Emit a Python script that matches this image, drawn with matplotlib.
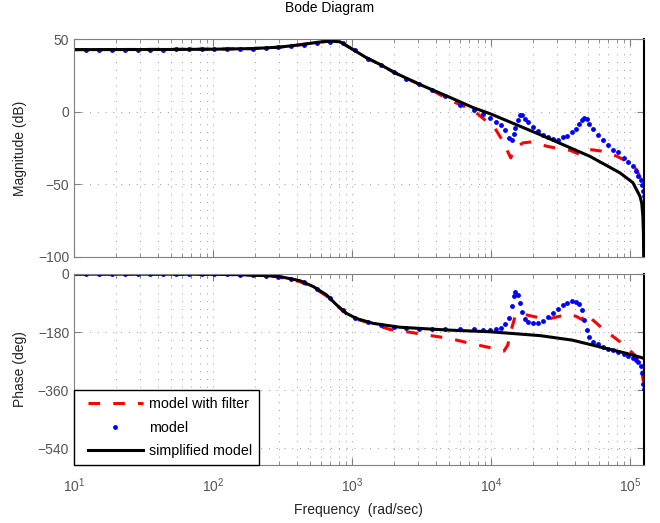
import matplotlib
matplotlib.use("Agg")
import matplotlib.pyplot as plt
from matplotlib.legend_handler import HandlerLine2D
from matplotlib.ticker import LogLocator, NullFormatter

plt.rcParams["font.family"] = ["Liberation Sans", "DejaVu Sans"]
plt.rcParams["font.size"] = 10
plt.rcParams["mathtext.default"] = "regular"

# simplified model (black)
simp_w = [10, 50, 100, 190, 300, 420, 580, 700, 820, 960, 1276, 1614, 2037, 3083,
          5070, 7420, 10000, 22540, 51500, 84700, 105000, 118000, 121500, 123800,
          125000, 125500, 125660]
simp_mag = [43, 43.1, 43.3, 43.7, 44.7, 46.3, 48.2, 48.9, 48.4, 44.5, 37.3, 32.5, 27,
            18.9, 10, 3, -1.5, -15.7, -30.7, -42.1, -48.9, -58.3, -63, -72,
            -84, -100, -120]
simp_pw = [10, 50, 100, 150, 243, 303, 424, 527, 657, 776, 914, 1077, 1418, 2210,
           3800, 5070, 9800, 22540, 38500, 67800, 94500, 121000, 125660]
simp_ph = [-0.3, -0.5, -1, -2, -5, -8, -21, -39, -65, -96, -122, -138, -153, -165,
           -171, -174, -179, -191, -205, -231, -246, -259, -262]

# model with filter (red dashed)
filt_w = [10, 100, 190, 300, 420, 580, 700, 820, 960, 1276, 1614, 2037, 3083, 3767,
          5070, 6340, 7470, 9310, 10400, 12190, 13870, 14390, 15500, 16990, 19620,
          25170, 31350, 37000, 43670, 48770, 51500, 63900, 80200, 94700, 111700,
          121300, 125660]
filt_mag = [43, 43.3, 43.7, 44.7, 46.3, 48.2, 48.9, 48.4, 44.5, 37.3, 32.5, 27, 18.9,
            15, 8, 4, 1, -6.5, -9.5, -20.3, -31.8, -28, -24, -21.4, -20.7, -23.7,
            -25.6, -26.5, -29.5, -28.3, -26, -27.2, -30.6, -34.1, -39.9, -48, -56]
filt_pw = [10, 100, 150, 243, 303, 424, 527, 657, 776, 914, 1077, 1418, 1875, 2472,
           3828, 5070, 7420, 9800, 11500, 12400, 13210, 13980, 14890, 15300, 18070,
           21330, 25170, 29720, 37000, 41310, 44950, 48790, 54200, 63900, 84700,
           105000, 121300, 123300, 125660]
filt_ph = [-0.3, -1, -2, -5, -10, -24, -42, -68, -98, -124, -140, -155, -172, -179,
           -192, -200, -217, -228, -238, -239, -220, -174, -132, -124, -127, -134,
           -141, -133, -124, -132, -141, -122, -143, -170, -210, -246, -272, -319,
           -340]

# model (blue dots)
model_w = [12.3, 15.2, 18.8, 23.2, 28.7, 35.5, 43.9, 54.3, 67.1, 82.9, 102.5, 126.7,
           156.6, 193.6, 239.3, 295.8, 365.6, 451.9, 558.6, 691.4, 854.8, 1057, 1306,
           1614, 1995, 2466, 3048, 3767, 4656, 5984, 7586, 8810, 9910, 10860, 11750,
           12620, 13550, 14100, 14530, 14890, 15570, 16180, 16800, 17570, 18550,
           19950, 21680, 23780, 25830, 27790, 30200, 32810, 35060, 38100, 40930,
           43190, 44950, 46880, 48790, 50840, 53900, 58610, 63680, 70000, 75860,
           81350, 90570, 97560, 104700, 111000, 115100, 119100, 122500, 125000,
           125600]
model_mag = [43, 43, 43, 43, 43, 43, 43, 43.1, 43.1, 43.2, 43.3, 43.4, 43.5, 43.7, 44,
             44.5, 45.4, 46.5, 47.8, 48.6, 47.5, 42.5, 36.8, 32.2, 27.4, 23, 19, 15,
             11, 5.1, 1.1, -1.4, -4.1, -6.9, -9.4, -12.7, -17.9, -19.6, -15, -11,
             -5.3, -2.3, -2.3, -4.6, -7.2, -10.3, -13.4, -15.7, -17.5, -18.4, -19.6,
             -17.6, -16.5, -14.2, -11.7, -8.3, -5.8, -4.1, -4.6, -8.1, -11.7, -15.7,
             -19.6, -23, -26, -28, -31.8, -34.5, -37.5, -41, -44, -47, -50.2, -54.5,
             -58]
model_ph = [-0.5, -0.5, -0.5, -0.5, -0.6, -0.6, -0.7, -0.8, -0.9, -1, -1, -1.3, -2,
            -3, -5, -8, -14, -25, -46, -75, -111, -136, -150, -158, -163, -167, -169,
            -170, -171, -171, -172, -173, -173, -172, -168, -155, -135, -100, -68,
            -55, -65, -91, -119, -140, -148, -151, -151, -145, -134, -122, -110, -96,
            -89, -84, -86, -93, -112, -143, -174, -196, -210, -217, -225, -231, -236,
            -241, -248, -254, -259, -267, -272, -285, -308, -340, -357]

GRAY = "#7f7f7f"
TXT = "#555555"
GRID = dict(color="#999999", lw=0.7, linestyle=(0, (1, 7)))

fig = plt.figure(figsize=(6.6, 5.23), dpi=100)
ax1 = fig.add_axes([0.1121, 0.5092, 0.8633, 0.4153])
ax2 = fig.add_axes([0.1121, 0.1109, 0.8633, 0.3652], sharex=ax1)

dash = (0, (3.8, 4.3))
for ax, fy, sy, my, sw, fw in (
    (ax1, filt_mag, simp_mag, model_mag, simp_w, filt_w),
    (ax2, filt_ph, simp_ph, model_ph, simp_pw, filt_pw),
):
    ax.plot(fw, fy, color="#ff0000", lw=2.2, linestyle=dash, label="model with filter")
    ax.plot(model_w, my, linestyle="none", marker="o", ms=3.5, mew=0,
            color="#0000ff", label="model")
    ax.plot(sw, sy, color="black", lw=2.2, label="simplified model")
    ax.set_xscale("log")
    ax.xaxis.set_minor_locator(LogLocator(base=10, subs=range(2, 10), numticks=20))
    ax.xaxis.set_minor_formatter(NullFormatter())
    ax.grid(True, which="major", axis="both", **GRID)
    ax.grid(True, which="minor", axis="x", **GRID)
    ax.tick_params(which="both", direction="in", top=True, right=True,
                   colors=GRAY, labelcolor=TXT, labelsize=10)
    ax.tick_params(which="major", length=5)
    ax.tick_params(which="minor", length=3)
    for side in ("left", "top", "bottom"):
        ax.spines[side].set_color(GRAY)
    ax.spines["right"].set_color("black")
    ax.spines["right"].set_linewidth(1.5)

ax1.set_xlim(10, 125660)
ax1.set_ylim(-100, 50)
ax1.set_yticks([-100, -50, 0, 50])
ax1.tick_params(labelbottom=False)
ax2.set_ylim(-592, 0)
ax2.set_yticks([0, -180, -360, -540])
ax2.tick_params(axis="x", which="major", pad=8)

ax1.set_ylabel("Magnitude (dB)", color="#222222")
ax2.set_ylabel("Phase (deg)", color="#222222")
ax1.yaxis.set_label_coords(-0.082, 0.5)
ax2.yaxis.set_label_coords(-0.082, 0.5)
ax2.set_xlabel("Frequency  (rad/sec)", color="#222222", labelpad=6)
fig.suptitle("Bode Diagram", y=0.998, fontsize=10)

hmap = {ln: HandlerLine2D(xpad=0.5) for ln in ax2.get_lines()}
leg = ax2.legend(loc="lower left", borderaxespad=0, numpoints=1, fancybox=False,
                 handlelength=4.3, handletextpad=0.45, labelspacing=0.65,
                 borderpad=0.5, framealpha=1, handler_map=hmap,
                 prop={"size": 10.3})
leg.get_frame().set_edgecolor("black")
leg.get_frame().set_linewidth(1.0)

fig.savefig("out.png", dpi=100)
